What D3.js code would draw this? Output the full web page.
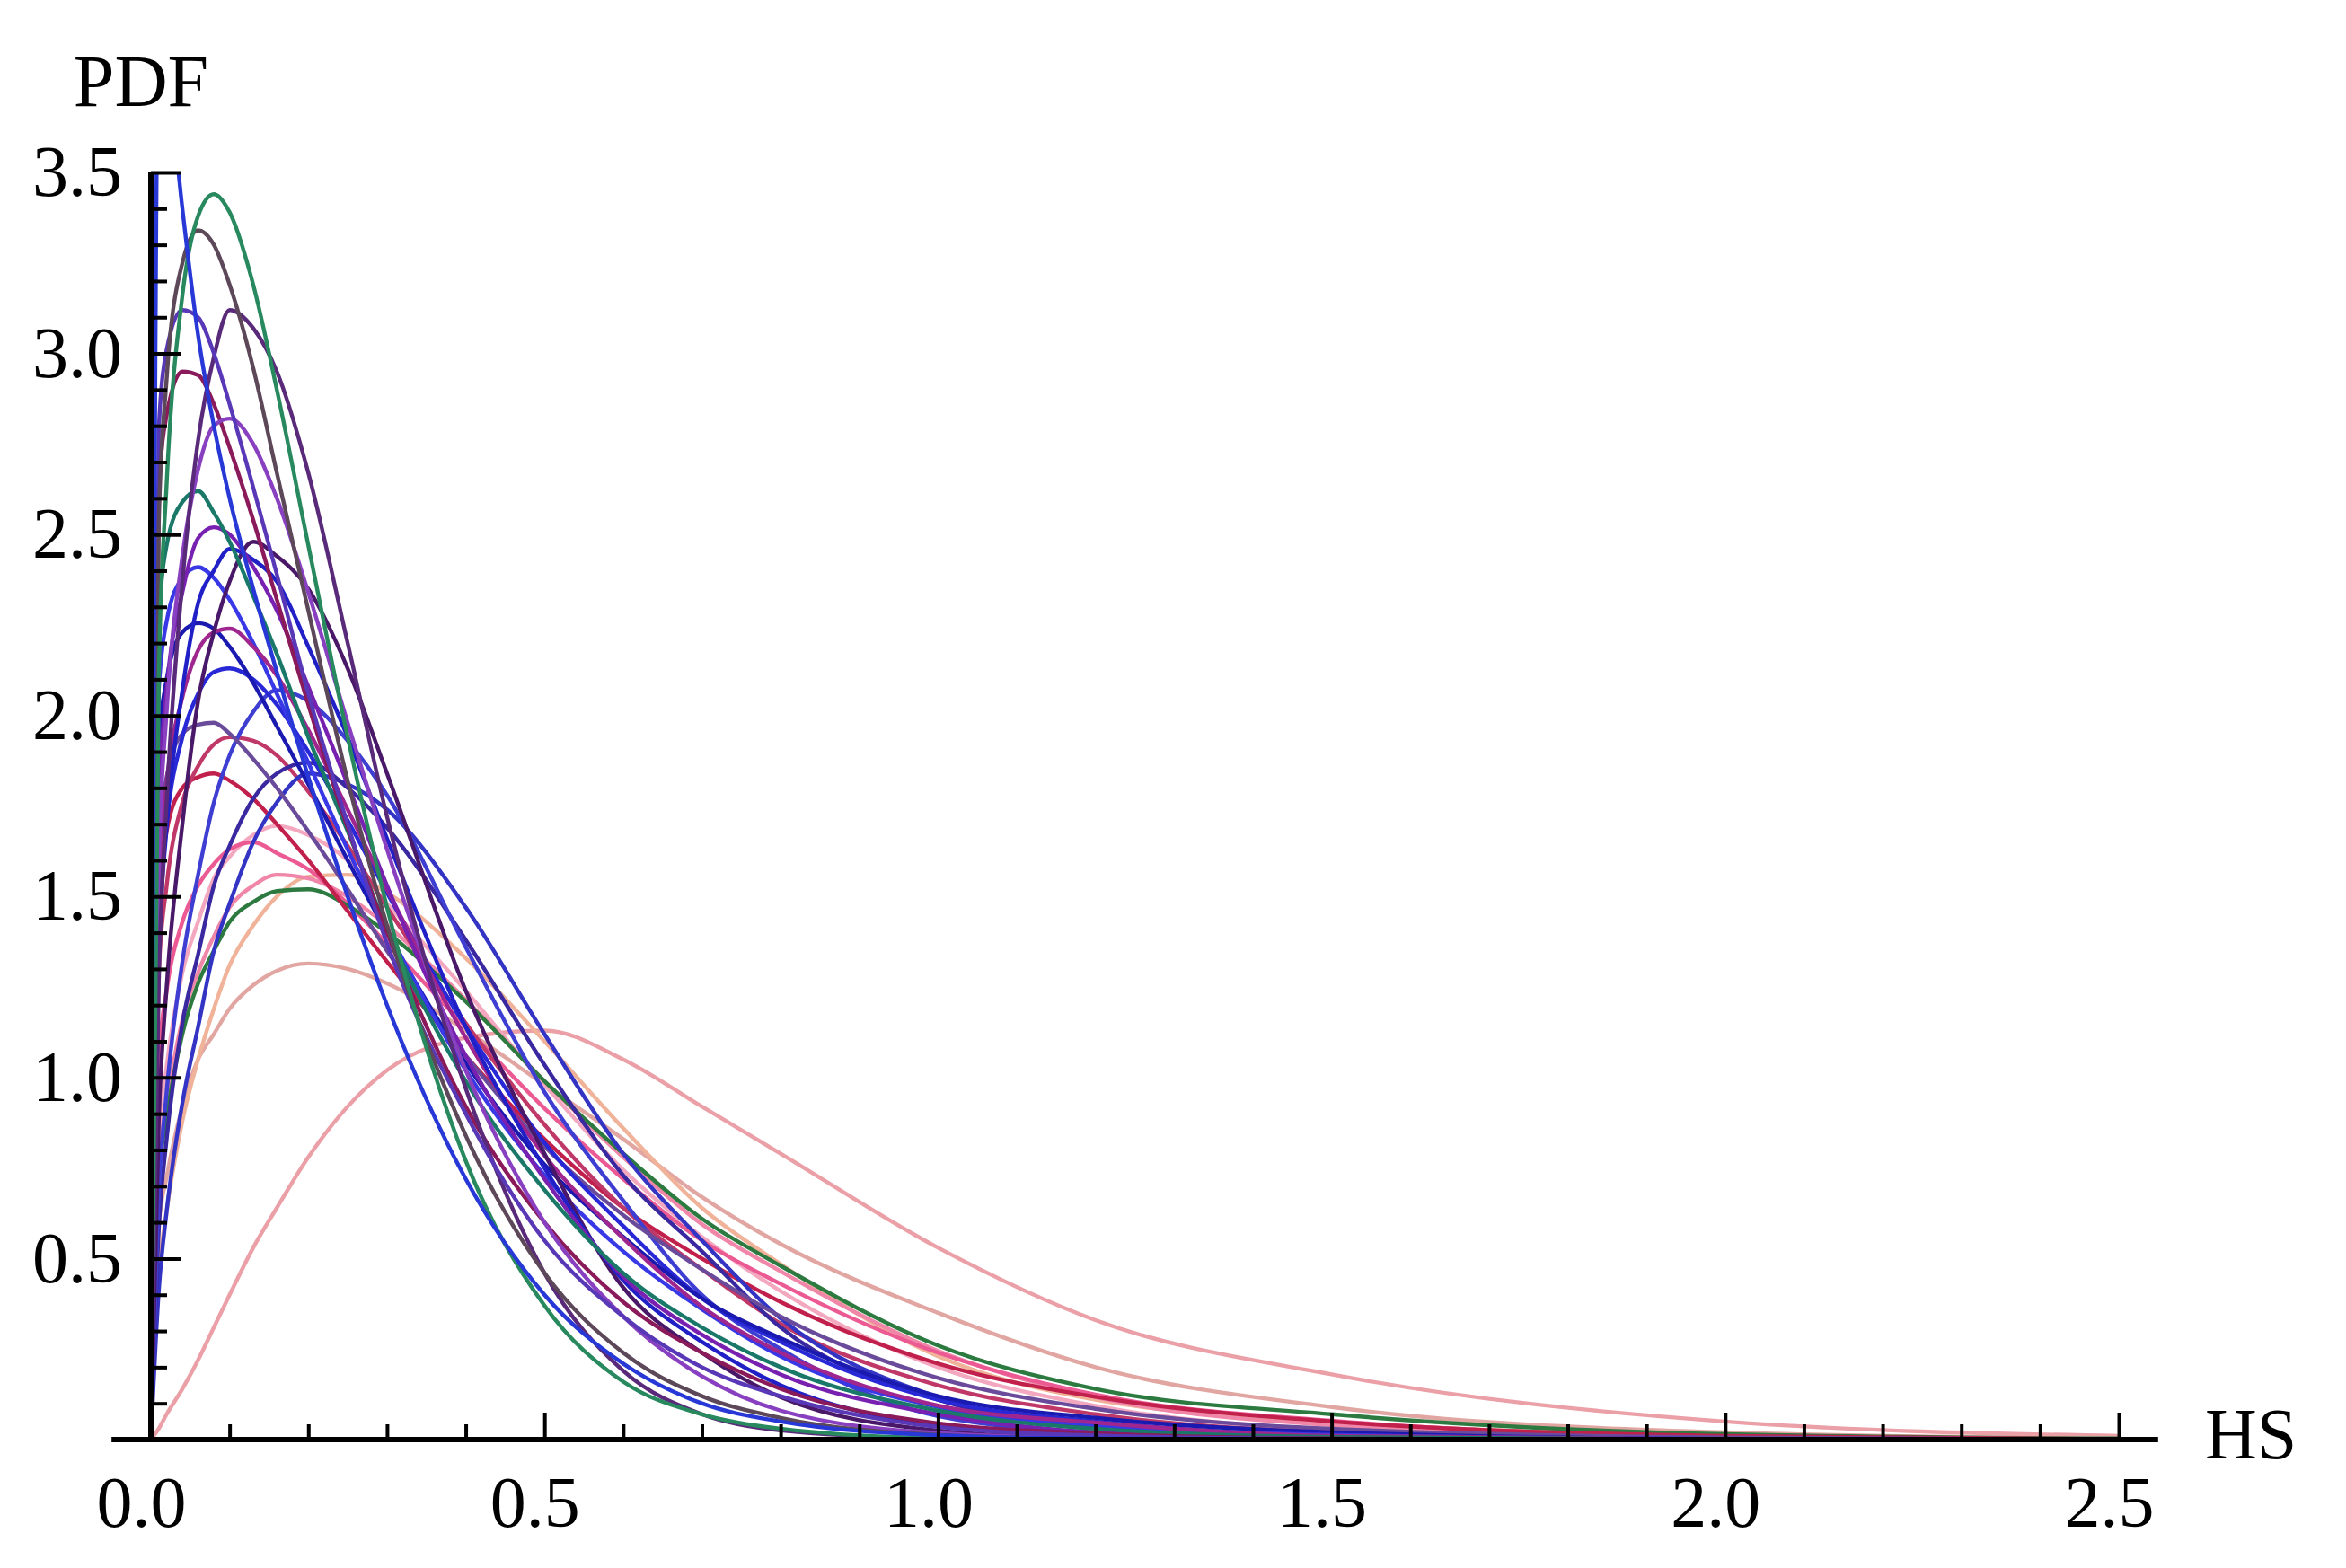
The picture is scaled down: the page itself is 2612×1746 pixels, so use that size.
<!DOCTYPE html>
<html>
<head>
<meta charset="utf-8">
<script src="https://cdn.jsdelivr.net/npm/d3@7/dist/d3.min.js"></script>
<style>
  html, body { margin: 0; padding: 0; background: #ffffff; }
  svg { display: block; }
</style>
</head>
<body>
<svg id="chart" width="2612" height="1746"></svg>
<script>
// ---- data ----
const hs = [0, 0.01, 0.02, 0.04, 0.06, 0.08, 0.1, 0.13, 0.16, 0.2, 0.25, 0.3, 0.4, 0.5, 0.6, 0.7, 0.8, 1.0, 1.2, 1.5, 2.0, 2.5];

const pdfPinkWide   = [0, 0.03, 0.07, 0.14, 0.22, 0.31, 0.40, 0.53, 0.64, 0.78, 0.92, 1.02, 1.11, 1.13, 1.05, 0.92, 0.79, 0.53, 0.33, 0.18, 0.05, 0.01];
const pdfSalmon     = [0, 0.59, 0.725, 0.92, 1.05, 1.12, 1.19, 1.255, 1.295, 1.315, 1.30, 1.26, 1.13, 0.98, 0.83, 0.67, 0.54, 0.35, 0.20, 0.09, 0.02, 0.003];
const pdfPeach      = [0, 0.45, 0.63, 0.88, 1.05, 1.19, 1.31, 1.42, 1.50, 1.555, 1.56, 1.51, 1.33, 1.10, 0.86, 0.64, 0.485, 0.23, 0.11, 0.05, 0.01, 0.002];
const pdfLightPink  = [0, 0.82, 1.03, 1.29, 1.43, 1.55, 1.61, 1.67, 1.695, 1.67, 1.60, 1.48, 1.24, 0.98, 0.745, 0.56, 0.41, 0.20, 0.093, 0.028, 0.003, 0];
const pdfPink       = [0, 0.74, 0.92, 1.16, 1.29, 1.39, 1.47, 1.53, 1.56, 1.55, 1.50, 1.42, 1.215, 0.99, 0.78, 0.595, 0.465, 0.245, 0.117, 0.04, 0.006, 0.001];
const pdfHotPink    = [0, 1.05, 1.24, 1.43, 1.53, 1.59, 1.63, 1.65, 1.62, 1.575, 1.48, 1.37, 1.14, 0.915, 0.72, 0.55, 0.43, 0.24, 0.124, 0.052, 0.009, 0.001];
const pdfGreenLow   = [0, 0.72, 0.89, 1.12, 1.26, 1.35, 1.43, 1.485, 1.515, 1.52, 1.475, 1.40, 1.21, 0.99, 0.79, 0.61, 0.48, 0.26, 0.14, 0.07, 0.015, 0.003];
const pdfCrimson    = [0, 1.53, 1.68, 1.80, 1.83, 1.84, 1.82, 1.77, 1.70, 1.60, 1.46, 1.32, 1.06, 0.83, 0.64, 0.50, 0.38, 0.21, 0.118, 0.05, 0.01, 0.0015];
const pdfRedPink    = [0, 1.29, 1.53, 1.76, 1.86, 1.92, 1.94, 1.93, 1.89, 1.79, 1.64, 1.47, 1.15, 0.87, 0.64, 0.47, 0.32, 0.15, 0.07, 0.02, 0.002, 0];
const pdfBlueOuter  = [0, 0.41, 0.63, 0.93, 1.14, 1.35, 1.48, 1.65, 1.76, 1.84, 1.81, 1.74, 1.47, 1.12, 0.79, 0.55, 0.335, 0.117, 0.035, 0.007, 0, 0];
const pdfBlueViolet = [0, 0.58, 0.83, 1.15, 1.34, 1.53, 1.64, 1.77, 1.84, 1.87, 1.80, 1.69, 1.38, 1.035, 0.73, 0.52, 0.31, 0.11, 0.035, 0.007, 0, 0];
const pdfBlueMid    = [0, 0.68, 0.96, 1.32, 1.56, 1.76, 1.89, 2.01, 2.07, 2.04, 1.93, 1.78, 1.36, 0.96, 0.66, 0.40, 0.25, 0.065, 0.02, 0.002, 0, 0];
const pdfGreyPurple = [0, 1.66, 1.83, 1.95, 1.975, 1.98, 1.95, 1.88, 1.80, 1.68, 1.52, 1.35, 1.06, 0.81, 0.62, 0.47, 0.34, 0.17, 0.085, 0.03, 0.006, 0.001];
const pdfBlue212    = [0, 1.44, 1.70, 1.94, 2.06, 2.12, 2.13, 2.10, 2.03, 1.90, 1.71, 1.51, 1.14, 0.82, 0.59, 0.39, 0.27, 0.11, 0.05, 0.012, 0.001, 0];
const pdfBlue225    = [0, 1.92, 2.10, 2.23, 2.255, 2.24, 2.19, 2.09, 1.97, 1.81, 1.60, 1.40, 1.04, 0.76, 0.56, 0.39, 0.28, 0.12, 0.06, 0.02, 0.002, 0];
const pdfBlue241    = [0, 2.07, 2.26, 2.38, 2.41, 2.38, 2.32, 2.20, 2.06, 1.87, 1.63, 1.41, 1.02, 0.73, 0.52, 0.36, 0.23, 0.09, 0.04, 0.013, 0.002, 0];
const pdfMagenta224 = [0, 1.53, 1.81, 2.05, 2.18, 2.23, 2.24, 2.19, 2.11, 1.96, 1.74, 1.52, 1.11, 0.785, 0.556, 0.367, 0.24, 0.094, 0.047, 0.01, 0.001, 0];
const pdfDarkPurple = [0, 0.88, 1.25, 1.70, 2.04, 2.23, 2.37, 2.48, 2.44, 2.35, 2.13, 1.84, 1.24, 0.79, 0.42, 0.24, 0.117, 0.025, 0.003, 0, 0, 0];
const pdfBlue245    = [0, 1.33, 1.69, 2.07, 2.31, 2.40, 2.46, 2.43, 2.37, 2.19, 1.94, 1.66, 1.14, 0.75, 0.44, 0.27, 0.15, 0.04, 0.01, 0, 0, 0];
const pdfPurple251  = [0, 1.76, 2.07, 2.34, 2.49, 2.52, 2.50, 2.41, 2.29, 2.08, 1.81, 1.53, 1.06, 0.72, 0.45, 0.29, 0.18, 0.07, 0.02, 0.003, 0, 0];
const pdfGreen262   = [0, 2.27, 2.47, 2.59, 2.62, 2.56, 2.48, 2.33, 2.17, 1.94, 1.68, 1.41, 0.99, 0.69, 0.46, 0.31, 0.20, 0.08, 0.03, 0.007, 0.001, 0];
const pdfMagenta295 = [0, 2.62, 2.83, 2.95, 2.94, 2.86, 2.74, 2.54, 2.32, 2.03, 1.69, 1.40, 0.92, 0.60, 0.38, 0.24, 0.14, 0.045, 0.017, 0.003, 0, 0];
const pdfViolet282  = [0, 1.59, 2.01, 2.44, 2.68, 2.80, 2.82, 2.75, 2.60, 2.34, 1.98, 1.63, 1.02, 0.60, 0.34, 0.175, 0.08, 0.018, 0.004, 0, 0, 0];
const pdfPurple310  = [0, 1.26, 1.76, 2.37, 2.76, 2.99, 3.12, 3.07, 2.95, 2.67, 2.20, 1.72, 0.97, 0.46, 0.19, 0.07, 0.025, 0.003, 0, 0, 0, 0];
const pdfPurpleBlue = [0, 2.79, 3.01, 3.12, 3.10, 3.00, 2.86, 2.63, 2.39, 2.06, 1.70, 1.37, 0.90, 0.55, 0.34, 0.20, 0.12, 0.035, 0.011, 0.002, 0, 0];
const pdfBrownGrey  = [0, 2.53, 2.93, 3.25, 3.34, 3.30, 3.19, 2.96, 2.67, 2.29, 1.82, 1.42, 0.84, 0.46, 0.24, 0.12, 0.06, 0.013, 0.002, 0, 0, 0];
const pdfGreenTop   = [0, 2.10, 2.64, 3.16, 3.38, 3.44, 3.39, 3.19, 2.90, 2.47, 1.94, 1.47, 0.77, 0.37, 0.16, 0.07, 0.03, 0.004, 0.001, 0, 0, 0];
const pdfBlueTop    = [0, 3.9, 3.8, 3.4, 3.05, 2.8, 2.6, 2.35, 2.12, 1.83, 1.5, 1.2, 0.72, 0.4, 0.21, 0.1, 0.05, 0.012, 0.003, 0, 0, 0];

const xTickValues = [0, 0.5, 1.0, 1.5, 2.0, 2.5];
const xTickLabels = ["0.0", "0.5", "1.0", "1.5", "2.0", "2.5"];
const yTickValues = [0.5, 1.0, 1.5, 2.0, 2.5, 3.0, 3.5];
const yTickLabels = ["0.5", "1.0", "1.5", "2.0", "2.5", "3.0", "3.5"];

// series in drawing order, with their colours
const seriesList = [
  pdfPinkWide, pdfSalmon, pdfPeach, pdfLightPink, pdfPink, pdfHotPink, pdfGreenLow,
  pdfCrimson, pdfRedPink, pdfBlueOuter, pdfBlueViolet, pdfBlueMid, pdfGreyPurple,
  pdfBlue212, pdfBlue225, pdfBlue241, pdfMagenta224, pdfDarkPurple, pdfBlue245,
  pdfPurple251, pdfGreen262, pdfMagenta295, pdfViolet282, pdfPurple310,
  pdfPurpleBlue, pdfBrownGrey, pdfGreenTop, pdfBlueTop
];
const seriesColors = [
  "#eba0a8", "#e2a6a2", "#f0b298", "#f4a8c0", "#f086a8", "#ec5a94", "#2c7a40",
  "#c2204c", "#c03868", "#3434c4", "#3a28a0", "#3e3ed2", "#6a4a9a",
  "#2828d6", "#1a1ab0", "#3838e6", "#9e268e", "#4a1868", "#2020c6",
  "#7820b0", "#1a7868", "#8a1a5a", "#8840c0", "#5a2a7a",
  "#5838b6", "#5c4858", "#28885e", "#2838d6"
];

// ---- drawing ----
const svg = d3.select("#chart");
svg.append("rect").attr("width", 2612).attr("height", 1746).attr("fill", "#ffffff");

const x = d3.scaleLinear().domain([0, 2.5]).range([168, 2359]);
const y = d3.scaleLinear().domain([0, 3.5]).range([1603, 192]);

svg.append("defs").append("clipPath").attr("id", "plotClip")
  .append("rect")
  .attr("x", x(0) - 4).attr("y", y(3.5))
  .attr("width", x(2.55) - x(0) + 4).attr("height", y(0) - y(3.5) + 4);

const line = d3.line()
  .x((d, i) => x(hs[i]))
  .y(d => y(d))
  .curve(d3.curveMonotoneX);

svg.append("g").attr("clip-path", "url(#plotClip)")
  .selectAll("path")
  .data(seriesList)
  .join("path")
  .attr("d", d => line(d))
  .attr("fill", "none")
  .attr("stroke", (d, i) => seriesColors[i])
  .attr("stroke-width", 4.4)
  .attr("stroke-linejoin", "round")
  .attr("stroke-linecap", "round");

const fontFamily = "'Liberation Serif', 'Times New Roman', serif";

// x axis: minor ticks
const xMinor = d3.range(1, 26).map(i => i / 10).filter(v => Math.abs(v * 2 - Math.round(v * 2)) > 1e-9);
svg.append("g").attr("transform", `translate(0,${y(0)})`)
  .call(d3.axisBottom(x).tickValues(xMinor).tickSize(-17).tickFormat(""))
  .call(g => g.select(".domain").remove())
  .call(g => g.selectAll("line").attr("stroke", "#000").attr("stroke-width", 4));

// x axis: major ticks + labels
svg.append("g").attr("transform", `translate(0,${y(0)})`)
  .call(d3.axisBottom(x).tickValues(xTickValues).tickSize(-30).tickPadding(40)
        .tickFormat((d, i) => xTickLabels[i]))
  .call(g => g.select(".domain").remove())
  .call(g => g.selectAll("line").attr("stroke", "#000").attr("stroke-width", 4))
  .call(g => g.selectAll("text").attr("x", -11).attr("fill", "#000")
        .style("font-family", fontFamily).style("font-size", "80px"));

// y axis: minor ticks
const yMinor = d3.range(1, 35).map(i => i / 10).filter(v => Math.abs(v * 2 - Math.round(v * 2)) > 1e-9);
svg.append("g").attr("transform", `translate(${x(0)},0)`)
  .call(d3.axisLeft(y).tickValues(yMinor).tickSize(-18).tickFormat(""))
  .call(g => g.select(".domain").remove())
  .call(g => g.selectAll("line").attr("stroke", "#000").attr("stroke-width", 4));

// y axis: major ticks + labels
svg.append("g").attr("transform", `translate(${x(0)},0)`)
  .call(d3.axisLeft(y).tickValues(yTickValues).tickSize(-33).tickPadding(32)
        .tickFormat((d, i) => yTickLabels[i]))
  .call(g => g.select(".domain").remove())
  .call(g => g.selectAll("line").attr("stroke", "#000").attr("stroke-width", 4))
  .call(g => g.selectAll("text").attr("fill", "#000")
        .style("font-family", fontFamily).style("font-size", "80px"));

// axis lines
svg.append("line")
  .attr("x1", x(-0.05)).attr("x2", x(2.55))
  .attr("y1", y(0)).attr("y2", y(0))
  .attr("stroke", "#000").attr("stroke-width", 6);
svg.append("line")
  .attr("x1", x(0)).attr("x2", x(0))
  .attr("y1", y(0) + 3).attr("y2", y(3.5))
  .attr("stroke", "#000").attr("stroke-width", 6);

// axis titles
svg.append("text")
  .attr("x", 157).attr("y", 118)
  .attr("text-anchor", "middle")
  .style("font-family", fontFamily).style("font-size", "82px")
  .attr("fill", "#000")
  .text("PDF");
svg.append("text")
  .attr("x", 2455).attr("y", 1624)
  .attr("text-anchor", "start")
  .style("font-family", fontFamily).style("font-size", "80px")
  .attr("fill", "#000")
  .text("HS");
</script>
</body>
</html>
